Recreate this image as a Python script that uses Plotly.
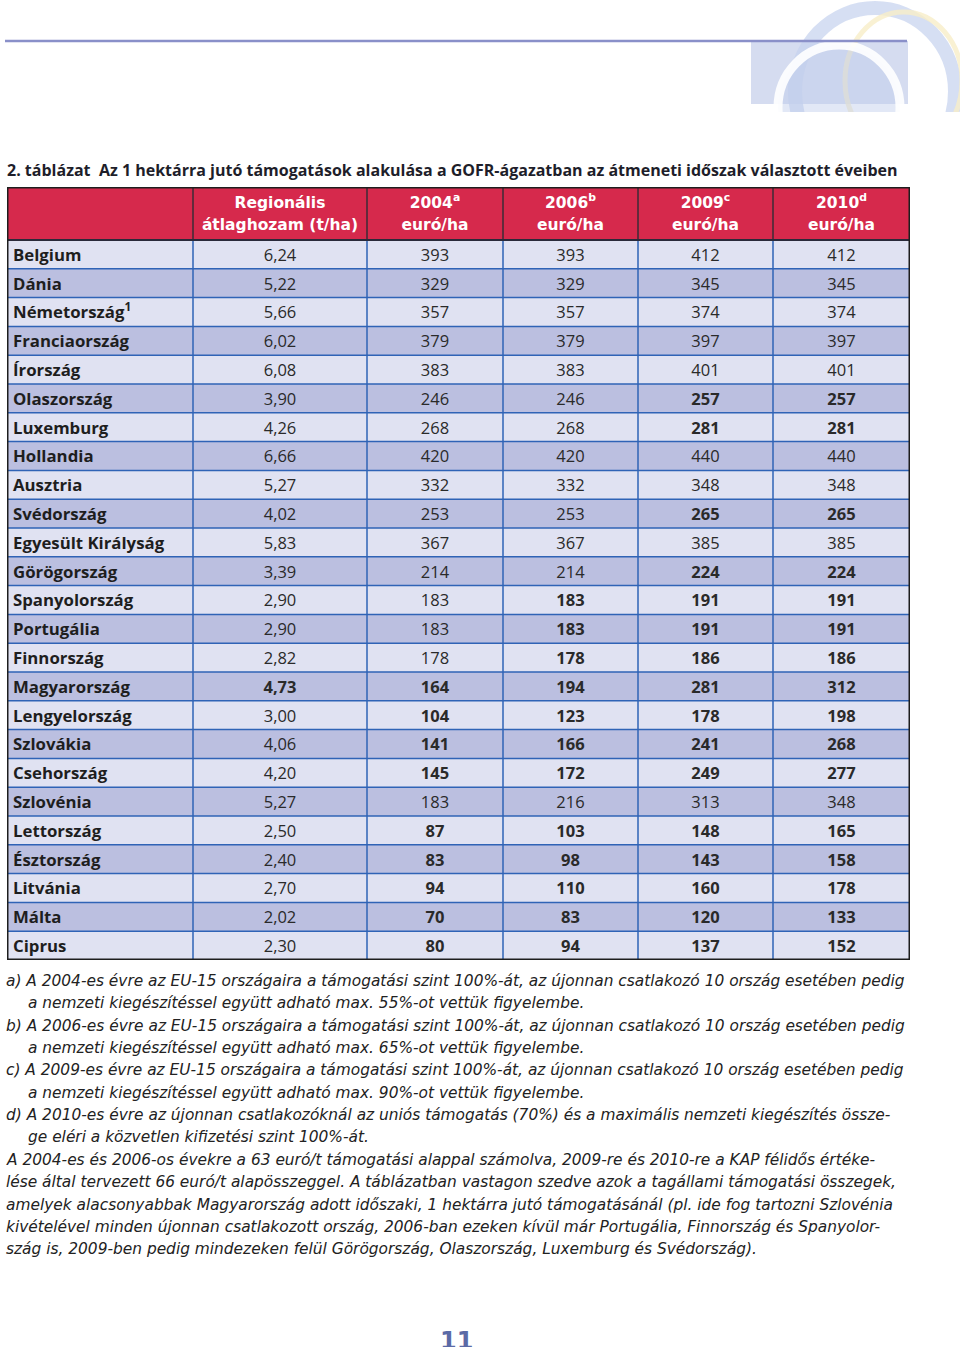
import plotly.graph_objects as go

W, H = 960, 1347

countries = ["Belgium", "Dánia", "Németország<sup>1</sup>", "Franciaország", "Írország",
             "Olaszország", "Luxemburg", "Hollandia", "Ausztria", "Svédország",
             "Egyesült Királyság", "Görögország", "Spanyolország", "Portugália", "Finnország",
             "Magyarország", "Lengyelország", "Szlovákia", "Csehország", "Szlovénia",
             "Lettország", "Észtország", "Litvánia", "Málta", "Ciprus"]
yield_t = [6.24, 5.22, 5.66, 6.02, 6.08, 3.90, 4.26, 6.66, 5.27, 4.02, 5.83, 3.39, 2.90,
           2.90, 2.82, 4.73, 3.00, 4.06, 4.20, 5.27, 2.50, 2.40, 2.70, 2.02, 2.30]
eur_2004 = [393, 329, 357, 379, 383, 246, 268, 420, 332, 253, 367, 214, 183, 183, 178,
            164, 104, 141, 145, 183, 87, 83, 94, 70, 80]
eur_2006 = [393, 329, 357, 379, 383, 246, 268, 420, 332, 253, 367, 214, 183, 183, 178,
            194, 123, 166, 172, 216, 103, 98, 110, 83, 94]
eur_2009 = [412, 345, 374, 397, 401, 257, 281, 440, 348, 265, 385, 224, 191, 191, 186,
            281, 178, 241, 249, 313, 148, 143, 160, 120, 137]
eur_2010 = [412, 345, 374, 397, 401, 257, 281, 440, 348, 265, 385, 224, 191, 191, 186,
            312, 198, 268, 277, 348, 165, 158, 178, 133, 152]
headers = ["", "Regionális<br>átlaghozam (t/ha)", "2004<sup>a</sup><br>euró/ha",
           "2006<sup>b</sup><br>euró/ha", "2009<sup>c</sup><br>euró/ha", "2010<sup>d</sup><br>euró/ha"]
reference_country = "Magyarország"

title = ("2. táblázat  Az 1 hektárra jutó támogatások alakulása a GOFR-ágazatban "
         "az átmeneti időszak választott éveiben")
notes = [
    ("a) A 2004-es évre az EU-15 országaira a támogatási szint 100%-át, az újonnan csatlakozó 10 ország esetében pedig", 0),
    ("a nemzeti kiegészítéssel együtt adható max. 55%-ot vettük figyelembe.", 1),
    ("b) A 2006-es évre az EU-15 országaira a támogatási szint 100%-át, az újonnan csatlakozó 10 ország esetében pedig", 0),
    ("a nemzeti kiegészítéssel együtt adható max. 65%-ot vettük figyelembe.", 1),
    ("c) A 2009-es évre az EU-15 országaira a támogatási szint 100%-át, az újonnan csatlakozó 10 ország esetében pedig", 0),
    ("a nemzeti kiegészítéssel együtt adható max. 90%-ot vettük figyelembe.", 1),
    ("d) A 2010-es évre az újonnan csatlakozóknál az uniós támogatás (70%) és a maximális nemzeti kiegészítés össze-", 0),
    ("ge eléri a közvetlen kifizetési szint 100%-át.", 1),
    ("A 2004-es és 2006-os évekre a 63 euró/t támogatási alappal számolva, 2009-re és 2010-re a KAP félidős értéke-", 0),
    ("lése által tervezett 66 euró/t alapösszeggel. A táblázatban vastagon szedve azok a tagállami támogatási összegek,", 0),
    ("amelyek alacsonyabbak Magyarország adott időszaki, 1 hektárra jutó támogatásánál (pl. ide fog tartozni Szlovénia", 0),
    ("kivételével minden újonnan csatlakozott ország, 2006-ban ezeken kívül már Portugália, Finnország és Spanyolor-", 0),
    ("szág is, 2009-ben pedig mindezeken felül Görögország, Olaszország, Luxemburg és Svédország).", 0),
]
page_no = "11"


def px(x):
    return x / W


def py(y):
    return 1 - y / H


hu = countries.index(reference_country)
n = len(countries)


def fmt_yield(i):
    s = f"{yield_t[i]:.2f}".replace(".", ",")
    return f"<b>{s}</b>" if i == hu else s


def fmt_col(col):
    return [f"<b>{v}</b>" if v <= col[hu] else str(v) for v in col]


num_cols = [[fmt_yield(i) for i in range(n)]] + [fmt_col(c) for c in (eur_2004, eur_2006, eur_2009, eur_2010)]

# geometry (in table units = pixels)
TOP, HEAD_B, BOT, LEFT, RIGHT = 187, 240, 960, 7, 910
col_w = [186, 174, 136, 135, 135, 137]
head_h = HEAD_B - TOP
row_h = (BOT - HEAD_B) / n
x_edges = [0]
for w in col_w:
    x_edges.append(x_edges[-1] + w)
y_edges = [0, head_h] + [head_h + row_h * (i + 1) for i in range(n)]
x_mid = [(x_edges[i] + x_edges[i + 1]) / 2 for i in range(len(col_w))]
TXT_DY = 2.2  # optical baseline correction for text
y_mid = [(y_edges[i + 1] + y_edges[i + 2]) / 2 + TXT_DY for i in range(n)]

light, dark, red = "#e0e2f2", "#bbbfe0", "#d6294c"
z = [[2] * len(col_w)] + [[i % 2] * len(col_w) for i in range(n)]

fig = go.Figure()
fig.add_trace(go.Heatmap(
    x=x_edges, y=y_edges, z=z, zmin=0, zmax=2, showscale=False, hoverinfo="skip",
    colorscale=[[0, light], [0.25, light], [0.25, dark], [0.75, dark], [0.75, red], [1, red]],
))

# header text (two lines, placed separately for line spacing)
fig.add_trace(go.Scatter(
    x=x_mid[1:], y=[head_h * 0.30 + 1] * 5, mode="text", hoverinfo="skip",
    text=[f"<b>{h.split('<br>')[0]}</b>" for h in headers[1:]],
    textposition="middle center",
    textfont=dict(family="DejaVu Sans", size=15.5, color="white"),
))
fig.add_trace(go.Scatter(
    x=x_mid[1:], y=[head_h * 0.72 + 1] * 5, mode="text", hoverinfo="skip",
    text=[f"<b>{h.split('<br>')[1]}</b>" for h in headers[1:]],
    textposition="middle center",
    textfont=dict(family="DejaVu Sans", size=15.5, color="white"),
))
# country labels
fig.add_trace(go.Scatter(
    x=[6] * n, y=y_mid, mode="text", text=[f"<b>{c}</b>" for c in countries],
    textposition="middle right", hoverinfo="skip",
    textfont=dict(family="Open Sans", size=16.8, color="#1e1e1e"),
))
# numeric columns
for j, col in enumerate(num_cols):
    fig.add_trace(go.Scatter(
        x=[x_mid[j + 1]] * n, y=y_mid, mode="text", text=col, textposition="middle center",
        hoverinfo="skip", textfont=dict(family="Open Sans", size=16.5, color="#2a2a2a"),
    ))

shapes = []
for xe in x_edges[1:-1]:
    shapes.append(dict(type="line", xref="x", yref="y", x0=xe, x1=xe, y0=0, y1=head_h,
                       line=dict(color="#3b2b36", width=1.5)))
    shapes.append(dict(type="line", xref="x", yref="y", x0=xe, x1=xe, y0=head_h, y1=y_edges[-1],
                       line=dict(color="#2f63b6", width=1.5)))
for ye in y_edges[2:-1]:
    shapes.append(dict(type="line", xref="x", yref="y", x0=0, x1=x_edges[-1], y0=ye, y1=ye,
                       line=dict(color="#2f63b6", width=1.5)))
shapes.append(dict(type="line", xref="x", yref="y", x0=0, x1=x_edges[-1], y0=head_h, y1=head_h,
                   line=dict(color="#2a2a3a", width=2)))
shapes.append(dict(type="rect", xref="x", yref="y", x0=0, x1=x_edges[-1], y0=0, y1=y_edges[-1],
                   line=dict(color="#1e1e1e", width=3)))

# decorative logo (approximation) drawn in its own clipped axes, pixel units
LX0, LX1, LY0, LY1 = 748, 960, 0, 112
shapes += [
    dict(type="rect", xref="x2", yref="y2", x0=751, x1=908, y0=41, y1=104,
         fillcolor="#d5dcf0", line=dict(width=0), layer="below"),
    dict(type="circle", xref="x2", yref="y2", x0=795, x1=955, y0=8, y1=175,
         line=dict(color="rgba(196,209,238,0.7)", width=14), fillcolor="rgba(0,0,0,0)", layer="below"),
    dict(type="circle", xref="x2", yref="y2", x0=845, x1=962, y0=12, y1=150,
         line=dict(color="rgba(248,238,200,0.8)", width=5), fillcolor="rgba(0,0,0,0)", layer="below"),
    dict(type="circle", xref="x2", yref="y2", x0=778, x1=900, y0=45, y1=170,
         line=dict(color="rgba(255,255,255,0.9)", width=9), fillcolor="rgba(190,204,236,0.45)",
         layer="below"),
    dict(type="line", xref="paper", yref="paper", x0=px(5), x1=px(907), y0=py(41), y1=py(41),
         line=dict(color="#8a90c9", width=2.5)),
]

annotations = [
    dict(text=f"<b>{title}</b>", x=px(5), y=py(170), xref="paper", yref="paper", xanchor="left",
         yanchor="middle", showarrow=False, font=dict(family="Open Sans", size=16, color="#1e1e2a")),
    dict(text=f"<b>{page_no}</b>", x=px(456), y=py(1341), xref="paper", yref="paper", xanchor="center",
         yanchor="middle", showarrow=False, font=dict(family="DejaVu Sans", size=24, color="#5b6aa6")),
]
y0, dy = 981, 22.35
for k, (line, ind) in enumerate(notes):
    annotations.append(dict(
        text=line, x=px(4 + 22 * ind), y=py(y0 + k * dy), xref="paper", yref="paper",
        xanchor="left", yanchor="middle", showarrow=False,
        font=dict(family="DejaVu Sans", size=15.4, color="#222222", style="italic")))

fig.update_layout(
    width=W, height=H, margin=dict(l=0, r=0, t=0, b=0),
    paper_bgcolor="white", plot_bgcolor="rgba(0,0,0,0)", showlegend=False,
    xaxis=dict(domain=[px(LEFT), px(RIGHT)], range=[0, x_edges[-1]], visible=False, fixedrange=True),
    yaxis=dict(domain=[py(BOT), py(TOP)], range=[y_edges[-1], 0], visible=False, fixedrange=True),
    xaxis2=dict(domain=[px(LX0), px(LX1)], range=[LX0, LX1], visible=False, fixedrange=True,
                anchor="y2"),
    yaxis2=dict(domain=[py(LY1), py(LY0)], range=[LY1, LY0], visible=False, fixedrange=True,
                anchor="x2"),
    shapes=shapes, annotations=annotations,
)
# an invisible anchor so the logo axes are created
fig.add_trace(go.Scatter(x=[LX0], y=[LY1], xaxis="x2", yaxis="y2", mode="markers",
                         marker=dict(opacity=0), hoverinfo="skip"))
fig.write_html("out.html", config={"displayModeBar": False},
               post_script="document.body.style.margin='0px';")
